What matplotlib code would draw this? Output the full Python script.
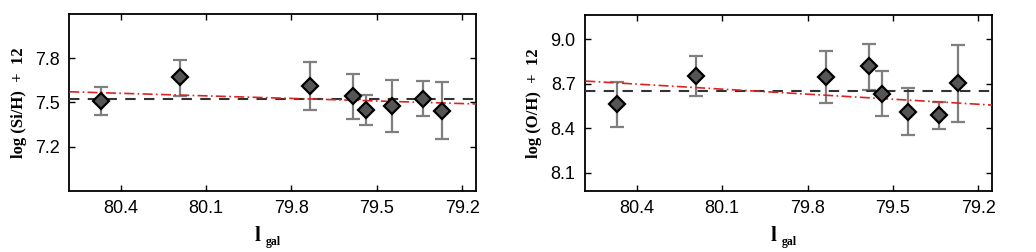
import matplotlib
matplotlib.use("Agg")
import matplotlib.pyplot as plt
import numpy as np

# Data
l_gal = [80.47, 80.19, 79.736, 79.583, 79.537, 79.446, 79.339, 79.27]
si_h = [7.511, 7.669, 7.608, 7.541, 7.449, 7.476, 7.525, 7.444]
si_err_up = [0.093, 0.122, 0.167, 0.153, 0.103, 0.173, 0.117, 0.194]
si_err_lo = [0.096, 0.124, 0.162, 0.156, 0.105, 0.174, 0.115, 0.193]
o_h = [8.561, 8.752, 8.743, 8.820, 8.632, 8.511, 8.486, 8.705]
o_err_up = [0.153, 0.135, 0.180, 0.151, 0.154, 0.158, 0.092, 0.257]
o_err_lo = [0.152, 0.135, 0.175, 0.161, 0.150, 0.158, 0.092, 0.262]

si_mean = 7.525
o_mean = 8.653
si_fit_ends = [7.572, 7.489]
o_fit_ends = [8.718, 8.556]

xlim = (80.58, 79.152)
xticks = [80.4, 80.1, 79.8, 79.5, 79.2]
si_yticks = [7.2, 7.5, 7.8]
o_yticks = [8.1, 8.4, 8.7, 9.0]

plt.rcParams['font.family'] = ['Liberation Sans', 'DejaVu Sans']

fig = plt.figure(figsize=(10.36, 2.52), dpi=100)
ax1 = fig.add_axes([0.0669, 0.2433, 0.3926, 0.7011])
ax2 = fig.add_axes([0.565, 0.2433, 0.3926, 0.6984])

labfont = dict(family='Liberation Serif', weight='bold', size=12)

def draw(ax, y, eu, el, mean, fit, ylim, yticks, ylabel):
    ax.errorbar(l_gal, y, yerr=[el, eu], fmt='none', ecolor='#7f7f7f',
                elinewidth=1.6, capsize=5, capthick=1.6, zorder=2)
    ax.plot(l_gal, y, linestyle='none', marker='D', markersize=8.5,
            markerfacecolor='#555555', markeredgecolor='black',
            markeredgewidth=1.6, zorder=4)
    ax.plot(xlim, [mean, mean], linestyle=(0, (5, 4)), color='#333333',
            lw=1.5, zorder=3)
    ax.plot(xlim, fit, linestyle=(0, (6, 2, 1, 2)), color='#dd2222',
            lw=1.2, zorder=3)
    ax.set_xlim(*xlim)
    ax.set_ylim(*ylim)
    ax.set_xticks(xticks)
    ax.set_xticklabels([f"{t:.1f}" for t in xticks])
    ax.set_yticks(yticks)
    ax.set_yticklabels([f"{t:.1f}" for t in yticks])
    ax.tick_params(direction='in', top=True, right=True, length=4,
                   width=1, pad=7, labelsize=13)
    for s in ax.spines.values():
        s.set_linewidth(1.3)
    ax.set_ylabel(ylabel, fontdict=labfont, labelpad=6)
    # x label: "l" with subscript "gal"
    ax.text(0.455, -0.259, 'l', transform=ax.transAxes, ha='left', va='center',
            family='Liberation Serif', weight='bold', size=15)
    ax.text(0.484, -0.29, 'gal', transform=ax.transAxes, ha='left', va='center',
            family='Liberation Serif', weight='bold', size=8.5)

draw(ax1, si_h, si_err_up, si_err_lo, si_mean, si_fit_ends, (6.9, 8.1),
     si_yticks, 'log (Si/H)  +  12')
draw(ax2, o_h, o_err_up, o_err_lo, o_mean, o_fit_ends, (7.978, 9.166),
     o_yticks, 'log (O/H)  +  12')

fig.savefig('out.png', dpi=100)
